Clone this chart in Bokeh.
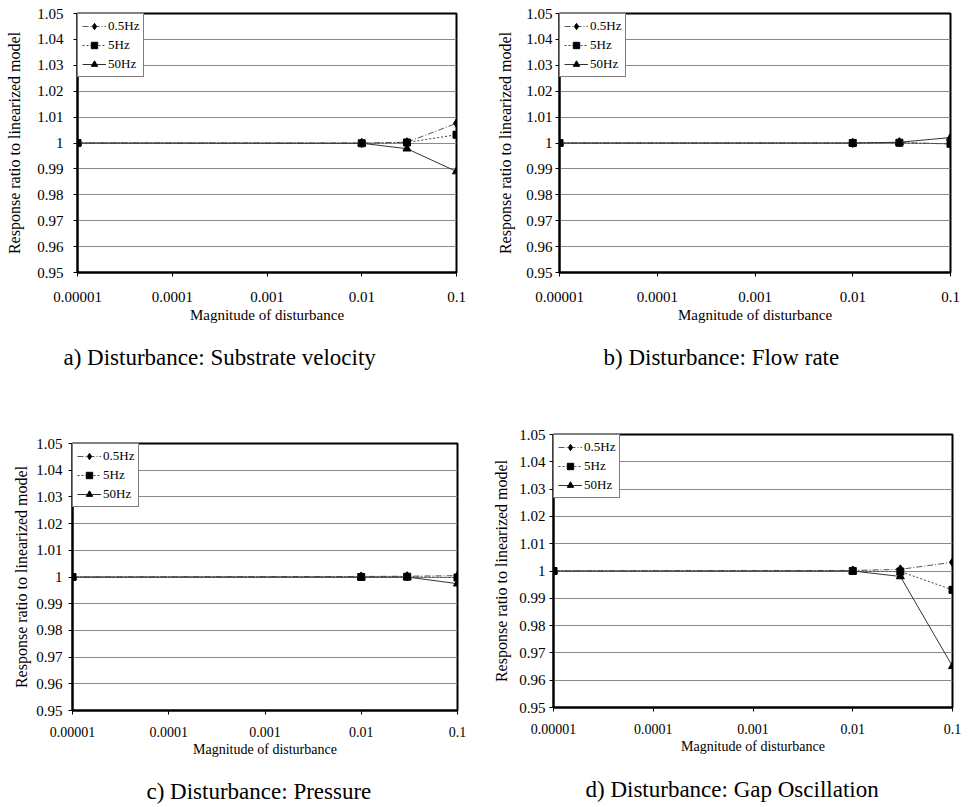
from bokeh.plotting import figure
from bokeh.layouts import column, row
from bokeh.models import FixedTicker, Title, Legend
from bokeh.embed import file_html
from bokeh.resources import INLINE

# ---- data ----
X = [0.00001, 0.01, 0.03, 0.1]
SERIES = ["0.5Hz", "5Hz", "50Hz"]

A_05 = [1.0, 1.0000, 1.0003, 1.0076]
A_5 = [1.0, 0.9999, 1.0002, 1.0032]
A_50 = [1.0, 0.9999, 0.9978, 0.9890]

B_05 = [1.0, 1.0000, 1.0002, 0.9996]
B_5 = [1.0, 1.0000, 1.0001, 0.9997]
B_50 = [1.0, 1.0000, 1.0003, 1.0021]

C_05 = [1.0, 1.0002, 1.0003, 1.0005]
C_5 = [1.0, 1.0000, 1.0001, 0.9998]
C_50 = [1.0, 1.0000, 1.0000, 0.9975]

D_05 = [1.0, 1.0002, 1.0006, 1.0032]
D_5 = [1.0, 1.0000, 0.9998, 0.9931]
D_50 = [1.0, 1.0000, 0.9980, 0.9651]

Y_TICKS = [0.95, 0.96, 0.97, 0.98, 0.99, 1.0, 1.01, 1.02, 1.03, 1.04, 1.05]
Y_TICK_LABELS = ["0.95", "0.96", "0.97", "0.98", "0.99", "1", "1.01", "1.02", "1.03", "1.04", "1.05"]
X_TICKS = [0.00001, 0.0001, 0.001, 0.01, 0.1]
X_TICK_LABELS = ["0.00001", "0.0001", "0.001", "0.01", "0.1"]

CAPTIONS = ["a) Disturbance: Substrate velocity", "b) Disturbance: Flow rate",
            "c) Disturbance: Pressure", "d) Disturbance: Gap Oscillation"]
X_LABEL = "Magnitude of disturbance"
Y_LABEL = "Response ratio to linearized model"

FONT = "Liberation Serif"

STYLES = {
    "0.5Hz": dict(dash="6 2 1 2", marker="diamond", size=9, lcolor="#555555"),
    "5Hz": dict(dash="2 2", marker="square", size=7, lcolor="#444444"),
    "50Hz": dict(dash="solid", marker="triangle", size=8, lcolor="#333333"),
}


def make_panel(vals, caption, geom, fonts, stand):
    left, fw, right, top, fh, bottom = geom
    xfs, yfs, lfs = fonts
    xstand, ystand, ylab_stand, cap_offset, cap_standoff = stand
    p = figure(x_axis_type="log", x_range=(X_TICKS[0], X_TICKS[-1]), y_range=(Y_TICKS[0], Y_TICKS[-1]),
               frame_width=fw, frame_height=fh,
               min_border_left=left, min_border_right=right, min_border_top=top, min_border_bottom=bottom,
               output_backend="svg", toolbar_location=None, background_fill_color="white",
               border_fill_color="white")
    p.outline_line_color = "black"
    p.outline_line_width = 2
    p.xgrid.visible = False
    p.ygrid.grid_line_color = "#8a8a8a"
    p.ygrid.grid_line_width = 1

    p.yaxis.ticker = FixedTicker(ticks=Y_TICKS)
    p.yaxis.major_label_overrides = {t: l for t, l in zip(Y_TICKS, Y_TICK_LABELS)}
    p.xaxis.ticker = FixedTicker(ticks=X_TICKS)
    p.xaxis.major_label_overrides = {t: l for t, l in zip(X_TICKS, X_TICK_LABELS)}

    for ax in (p.xaxis[0], p.yaxis[0]):
        ax.axis_line_color = "black"
        ax.axis_line_width = 2
        ax.major_tick_line_color = "black"
        ax.major_tick_out = 4
        ax.major_tick_in = 0
        ax.minor_tick_out = 0
        ax.minor_tick_in = 0
        ax.major_label_text_font = FONT
        ax.major_label_text_color = "black"
        ax.axis_label_text_font = FONT
        ax.axis_label_text_font_style = "normal"
        ax.axis_label_text_color = "black"

    p.xaxis.major_label_text_font_size = xfs
    p.xaxis.major_label_standoff = xstand
    p.xaxis.axis_label = X_LABEL
    p.xaxis.axis_label_text_font_size = xfs
    p.xaxis.axis_label_standoff = 2

    p.yaxis.major_label_text_font_size = yfs
    p.yaxis.major_label_standoff = ystand
    p.yaxis.axis_label = Y_LABEL
    p.yaxis.axis_label_text_font_size = lfs
    p.yaxis.axis_label_standoff = ylab_stand

    items = []
    for name, ys in zip(SERIES, vals):
        st = STYLES[name]
        r1 = p.line(X, ys, line_color=st["lcolor"], line_width=1, line_dash=st["dash"])
        r2 = p.scatter(X, ys, marker=st["marker"], size=st["size"], fill_color="black", line_color="black")
        items.append((name, [r1, r2]))

    legend = Legend(items=items, location="top_left", margin=0, padding=4, spacing=3,
                    label_text_font=FONT, label_text_font_size="13px", label_text_color="black",
                    label_standoff=2, glyph_width=24, glyph_height=16, label_height=16,
                    border_line_color="black", border_line_width=1,
                    background_fill_color="white", background_fill_alpha=1.0)
    p.add_layout(legend)

    t = Title(text=caption, align="left", offset=cap_offset, text_font=FONT, text_font_size="23px",
              text_font_style="normal", text_color="black")
    if "standoff" in Title.properties():
        t.standoff = cap_standoff
    p.add_layout(t, "below")
    return p


pa = make_panel([A_05, A_5, A_50], CAPTIONS[0], (77, 379, 31, 13, 259, 148),
                ("15px", "15px", "16px"), (15, 10, 11, -14, 34))
pb = make_panel([B_05, B_5, B_50], CAPTIONS[1], (72, 391, 24, 13, 259, 148),
                ("15px", "15px", "16px"), (15, 3, 9, 44, 34))
pc = make_panel([C_05, C_5, C_50], CAPTIONS[2], (72, 385, 30, 23, 267, 97),
                ("14px", "15px", "16px"), (12, 6, 3, 74, 34))
pd = make_panel([D_05, D_5, D_50], CAPTIONS[3], (66, 399, 22, 14, 273, 100),
                ("14px", "15px", "16px"), (12, 4, 6, 32, 36))

layout = column(row(column(pa), column(pb)), row(column(pc), column(pd)))

open("out.html", "w").write(file_html(layout, INLINE))
